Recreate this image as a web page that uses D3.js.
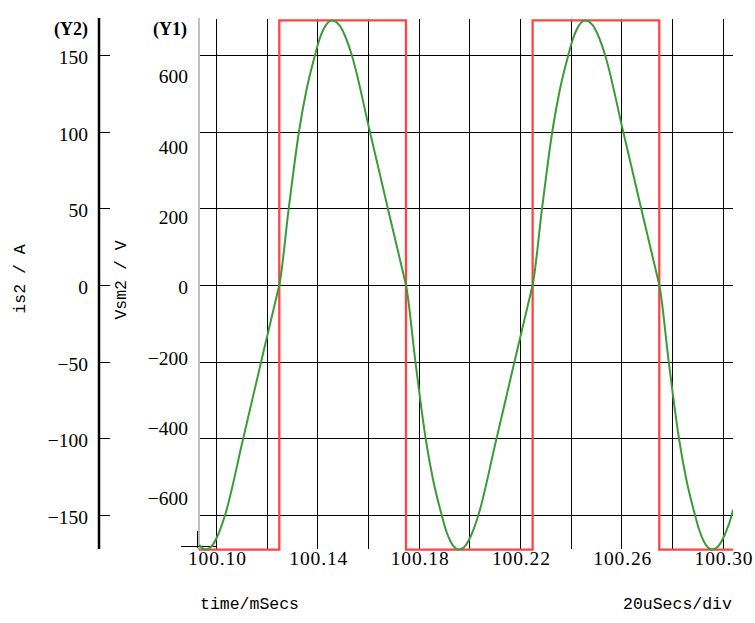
<!DOCTYPE html>
<html>
<head>
<meta charset="utf-8">
<script src="https://cdn.jsdelivr.net/npm/d3@7"></script>
<style>
  html, body { margin: 0; padding: 0; background: #fff; }
  svg { display: block; }
</style>
</head>
<body>
<svg id="chart" width="755" height="623"></svg>
<script>
// ---- data ----
const timeDomain = [100.0933, 100.3041];          // ms
const y1Domain = [-753, 753];                      // Vsm2 / V
const y2Domain = [-172.8, 172.8];                  // is2 / A

const xGridValues = [100.10, 100.12, 100.14, 100.16, 100.18, 100.20, 100.22, 100.24, 100.26, 100.28, 100.30];
const xTickValues = [100.10, 100.14, 100.18, 100.22, 100.26, 100.30];
const xTickLabels = ["100.10", "100.14", "100.18", "100.22", "100.26", "100.30"];

const y1TickValues = [600, 400, 200, 0, -200, -400, -600];
const y1TickLabels = ["600", "400", "200", "0", "\u2212200", "\u2212400", "\u2212600"];
const y2TickValues = [150, 100, 50, 0, -50, -100, -150];
const y2TickLabels = ["150", "100", "50", "0", "\u221250", "\u2212100", "\u2212150"];

// Vsm2 (red, square wave, Y1)
const vsmTimes  = [100.0933, 100.125, 100.175, 100.225, 100.275, 100.3041];
const vsmValues = [-752, 752, -752, 752, -752, -752];

// is2 (green, Y2)
const isTimes = [
  100.0933, 100.0958, 100.0987, 100.1010, 100.1036, 100.1107, 100.1179, 100.1244, 100.1250,
  100.1287, 100.1328, 100.1357, 100.1391, 100.1408, 100.1424, 100.1458, 100.1487, 100.1510,
  100.1536, 100.1607, 100.1679, 100.1744, 100.1750,
  100.1787, 100.1828, 100.1857, 100.1891, 100.1908, 100.1924, 100.1958, 100.1987, 100.2010,
  100.2036, 100.2107, 100.2179, 100.2244, 100.2250,
  100.2287, 100.2328, 100.2357, 100.2391, 100.2408, 100.2424, 100.2458, 100.2487, 100.2510,
  100.2536, 100.2607, 100.2679, 100.2744, 100.2750,
  100.2787, 100.2828, 100.2857, 100.2891, 100.2908, 100.2924, 100.2958, 100.2987, 100.3010,
  100.3036, 100.3041
];
const isValues = [
  -169.5, -172.5, -169.4, -162.2, -150, -100.4, -49.6, -4.2, 0,
  49.6, 100.4, 127, 150, 159.9, 166.6, 172.5, 169.4, 162.2,
  150, 100.4, 49.6, 4.2, 0,
  -49.6, -100.4, -127, -150, -159.9, -166.6, -172.5, -169.4, -162.2,
  -150, -100.4, -49.6, -4.2, 0,
  49.6, 100.4, 127, 150, 159.9, 166.6, 172.5, 169.4, 162.2,
  150, 100.4, 49.6, 4.2, 0,
  -49.6, -100.4, -127, -150, -159.9, -166.6, -172.5, -169.4, -162.2,
  -150, -146.5
];

// ---- layout ----
const plotLeft = 199, plotRight = 733, plotTop = 20, plotBottom = 550;
const svg = d3.select("#chart");

const x  = d3.scaleLinear().domain(timeDomain).range([plotLeft, plotRight]);
const y1 = d3.scaleLinear().domain(y1Domain).range([plotBottom, plotTop]);
const y2 = d3.scaleLinear().domain(y2Domain).range([plotBottom, plotTop]);

const serif = "'Liberation Serif', 'Times New Roman', serif";
const mono = "'Liberation Mono', 'DejaVu Sans Mono', monospace";

// clip
svg.append("defs").append("clipPath").attr("id", "clip")
  .append("rect").attr("x", plotLeft).attr("y", plotTop - 3)
  .attr("width", plotRight - plotLeft).attr("height", plotBottom - plotTop + 6);

// grid: vertical
svg.append("g").selectAll("line").data(xGridValues).join("line")
  .attr("x1", d => Math.round(x(d)) + 0.5).attr("x2", d => Math.round(x(d)) + 0.5)
  .attr("y1", 19).attr("y2", 549)
  .attr("stroke", "#000").attr("stroke-width", 1);

// grid: horizontal (Y2 ticks)
svg.append("g").selectAll("line").data(y2TickValues).join("line")
  .attr("x1", plotLeft).attr("x2", plotRight)
  .attr("y1", d => Math.round(y2(d)) + 0.5).attr("y2", d => Math.round(y2(d)) + 0.5)
  .attr("stroke", "#000").attr("stroke-width", 1);

// plot left border (gray)
svg.append("line").attr("x1", plotLeft).attr("x2", plotLeft)
  .attr("y1", 18).attr("y2", 550).attr("stroke", "#c0c0c0").attr("stroke-width", 2);

// origin cross marks
svg.append("line").attr("x1", 181).attr("x2", 216).attr("y1", 546.5).attr("y2", 546.5)
  .attr("stroke", "#000").attr("stroke-width", 1);
svg.append("line").attr("x1", 197.5).attr("x2", 197.5).attr("y1", 531).attr("y2", 548)
  .attr("stroke", "#000").attr("stroke-width", 1);

// Y2 axis
svg.append("line").attr("x1", 99).attr("x2", 99).attr("y1", 18).attr("y2", 549)
  .attr("stroke", "#000").attr("stroke-width", 2.5);
svg.append("g").selectAll("line").data(y2TickValues).join("line")
  .attr("x1", 99).attr("x2", 110)
  .attr("y1", d => Math.round(y2(d)) + 0.5).attr("y2", d => Math.round(y2(d)) + 0.5)
  .attr("stroke", "#000").attr("stroke-width", 1);
svg.append("g").selectAll("text").data(y2TickValues).join("text")
  .attr("x", 88).attr("y", d => y2(d) + 9)
  .attr("text-anchor", "end").attr("font-family", serif).attr("font-size", 19.5)
  .attr("fill", "#000")
  .text((d, i) => y2TickLabels[i]);

// Y1 labels
svg.append("g").selectAll("text").data(y1TickValues).join("text")
  .attr("x", 188).attr("y", d => y1(d) + 9.3)
  .attr("text-anchor", "end").attr("font-family", serif).attr("font-size", 19.5)
  .attr("fill", "#000")
  .text((d, i) => y1TickLabels[i]);

// axis headers
svg.append("text").attr("x", 88).attr("y", 35).attr("text-anchor", "end")
  .attr("font-family", serif).attr("font-weight", "bold").attr("font-size", 18).text("(Y2)");
svg.append("text").attr("x", 187).attr("y", 35).attr("text-anchor", "end")
  .attr("font-family", serif).attr("font-weight", "bold").attr("font-size", 18).text("(Y1)");

// axis titles (rotated)
svg.append("text").attr("transform", "translate(25,279) rotate(-90)")
  .attr("text-anchor", "middle").attr("font-family", mono).attr("font-size", 16.5)
  .text("is2 / A");
svg.append("text").attr("transform", "translate(126,280) rotate(-90)")
  .attr("text-anchor", "middle").attr("font-family", mono).attr("font-size", 16.5)
  .text("Vsm2 / V");

// X tick labels
svg.append("g").selectAll("text").data(xTickValues).join("text")
  .attr("x", d => x(d) + 1).attr("y", 565)
  .attr("text-anchor", "middle").attr("font-family", serif).attr("font-size", 19.5)
  .attr("textLength", 58).attr("lengthAdjust", "spacing")
  .text((d, i) => xTickLabels[i]);

// bottom texts
svg.append("text").attr("x", 200).attr("y", 609)
  .attr("font-family", mono).attr("font-size", 16.5).text("time/mSecs");
svg.append("text").attr("x", 623).attr("y", 609)
  .attr("font-family", mono).attr("font-size", 16.5).text("20uSecs/div");

// series
const plot = svg.append("g").attr("clip-path", "url(#clip)");

const vsmData = vsmTimes.map((t, i) => [t, vsmValues[i]]);
plot.append("path").datum(vsmData)
  .attr("fill", "none").attr("stroke", "#ff4444").attr("stroke-width", 2.3)
  .attr("d", d3.line().x(d => x(d[0])).y(d => y1(d[1])).curve(d3.curveStepAfter));

const isData = isTimes.map((t, i) => [t, isValues[i]]);
plot.append("path").datum(isData)
  .attr("fill", "none").attr("stroke", "#3b9b38").attr("stroke-width", 2)
  .attr("d", d3.line().x(d => x(d[0])).y(d => y2(d[1])).curve(d3.curveMonotoneX));
</script>
</body>
</html>
